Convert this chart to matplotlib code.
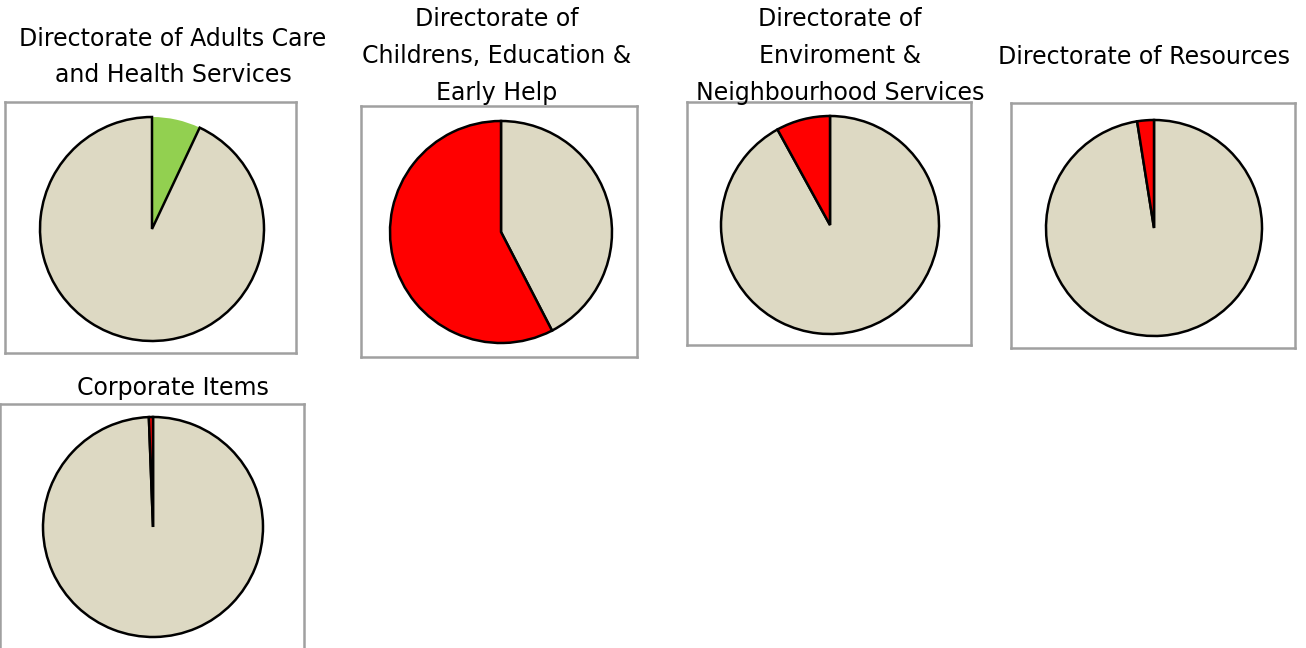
import matplotlib
matplotlib.use("Agg")
import matplotlib.pyplot as plt

# Share of each directorate's budget by status (percent)
titles = [
    "Directorate of Adults Care\nand Health Services",
    "Directorate of\nChildrens, Education &\nEarly Help",
    "Directorate of\nEnviroment &\nNeighbourhood Services",
    "Directorate of Resources",
    "Corporate Items",
]
first_share = [7.0, 42.4, 92.0, 97.5, 99.4]
second_share = [93.0, 57.6, 8.0, 2.5, 0.6]
first_colors = ["#92D050", "#DDD9C3", "#DDD9C3", "#DDD9C3", "#DDD9C3"]
second_colors = ["#DDD9C3", "#FF0000", "#FF0000", "#FF0000", "#FF0000"]

W, H = 1306, 648
fig = plt.figure(figsize=(W / 100, H / 100), dpi=100)
fig.patch.set_facecolor("white")

# layout in pixels: box (left, top, width, height), pie centre (x, y), radius, title (x, y centre)
boxes = [(5, 102, 291, 251), (361, 106, 276, 251), (687, 102, 284, 243),
         (1011, 103, 284, 245), (0, 404, 304, 250)]
centres = [(152, 229), (501, 232), (830, 225), (1154, 228), (153, 527)]
radii = [112, 111, 109, 108, 110]
title_pos = [(173, 57), (497, 56), (840, 56), (1144, 57), (173, 388)]
title_spacing = [1.6, 1.7, 1.7, 1.6, 1.6]

for i in range(5):
    bx, by, bw, bh = boxes[i]
    ax = fig.add_axes([bx / W, 1 - (by + bh) / H, bw / W, bh / H])
    ax.set_zorder(0)
    cx, cy = centres[i]
    wedges, _ = ax.pie([first_share[i], second_share[i]],
                       colors=[first_colors[i], second_colors[i]],
                       startangle=90, counterclock=False,
                       radius=radii[i], center=(cx - bx, bh - (cy - by)),
                       wedgeprops=dict(linewidth=1.8, edgecolor="black"))
    if first_colors[i] == "#92D050":
        wedges[0].set_edgecolor("none")
        wedges[1].set_zorder(wedges[0].get_zorder() + 1)
    ax.set_aspect("auto")
    ax.set_xlim(0, bw)
    ax.set_ylim(0, bh)
    ax.set_xticks([])
    ax.set_yticks([])
    ax.set_frame_on(True)
    for s in ax.spines.values():
        s.set_visible(True)
        s.set_color("#A0A0A0")
        s.set_linewidth(1.8)

    tx, ty = title_pos[i]
    fig.text(tx / W, 1 - ty / H, titles[i], ha="center", va="center",
             fontsize=17, family="DejaVu Sans", linespacing=title_spacing[i],
             color="#000000", zorder=5)

fig.savefig("out.png", dpi=100, facecolor="white")
